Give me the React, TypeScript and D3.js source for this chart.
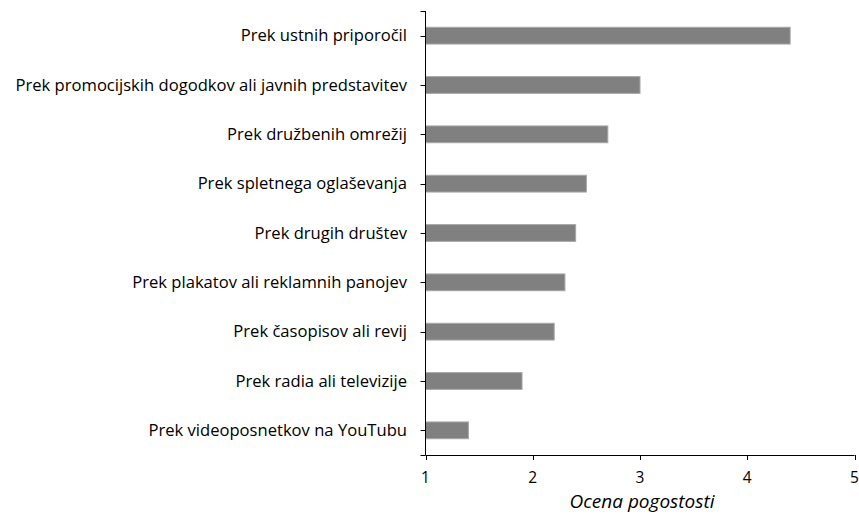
import React from "react";
import * as d3 from "d3";

const categories = [
  "Prek ustnih priporočil",
  "Prek promocijskih dogodkov ali javnih predstavitev",
  "Prek družbenih omrežij",
  "Prek spletnega oglaševanja",
  "Prek drugih društev",
  "Prek plakatov ali reklamnih panojev",
  "Prek časopisov ali revij",
  "Prek radia ali televizije",
  "Prek videoposnetkov na YouTubu",
];
const values = [4.4, 3.0, 2.7, 2.5, 2.4, 2.3, 2.2, 1.9, 1.4];
const xTicks = [1, 2, 3, 4, 5];
const xTitle = "Ocena pogostosti";

const W = 859;
const H = 519;
const left = 425.5;
const right = 854.5;
const top = 11;
const bottom = 455;
const FONT = "'Open Sans', 'Noto Sans', sans-serif";

export default function App() {
  const x = d3.scaleLinear().domain([1, 5]).range([left, right]);
  const y = d3.scaleBand<string>().domain(categories).range([top, bottom]).paddingInner(0.66).paddingOuter(0.33);
  const yPoint = d3.scaleBand<string>().domain(categories).range([top, bottom]);

  return (
    <svg width={W} height={H} style={{ position: "absolute", left: 0, top: 0, background: "#fff" }} fontFamily={FONT}>
      {categories.map((c, i) => (
        <rect
          key={c}
          x={x(1)}
          y={y(c)}
          width={x(values[i]) - x(1)}
          height={y.bandwidth()}
          fill="#808080"
          stroke="#a6a6a6"
          strokeWidth={1}
        />
      ))}
      {/* y axis */}
      <line x1={left} x2={left} y1={top} y2={bottom} stroke="#000" strokeWidth={1} />
      {[top, bottom].map((b, i) => (
        <line key={"b" + i} x1={left - 5} x2={left} y1={Math.round(b) + 0.5} y2={Math.round(b) + 0.5} stroke="#000" />
      ))}
      {categories.map((c) => {
        const cy = (yPoint(c) as number) + yPoint.bandwidth() / 2;
        return (
          <g key={"t" + c}>
            <line x1={left - 5} x2={left} y1={Math.round(cy) + 0.5} y2={Math.round(cy) + 0.5} stroke="#000" />
            <text x={407} y={cy} dy="0.35em" textAnchor="end" fontSize={16.6} fill="#000">
              {c}
            </text>
          </g>
        );
      })}
      {/* x axis */}
      <line x1={left} x2={right} y1={bottom + 0.5} y2={bottom + 0.5} stroke="#000" strokeWidth={1} />
      {xTicks.map((t) => (
        <g key={"x" + t}>
          <line x1={Math.round(x(t)) + 0.5} x2={Math.round(x(t)) + 0.5} y1={bottom} y2={bottom + 5} stroke="#000" />
          <text x={x(t)} y={478} dy="0.35em" textAnchor="middle" fontSize={15.5} fill="#000">
            {t}
          </text>
        </g>
      ))}
      <text x={(left + right) / 2 + 2} y={508} textAnchor="middle" fontSize={19} fontStyle="italic" fill="#000">
        {xTitle}
      </text>
    </svg>
  );
}
